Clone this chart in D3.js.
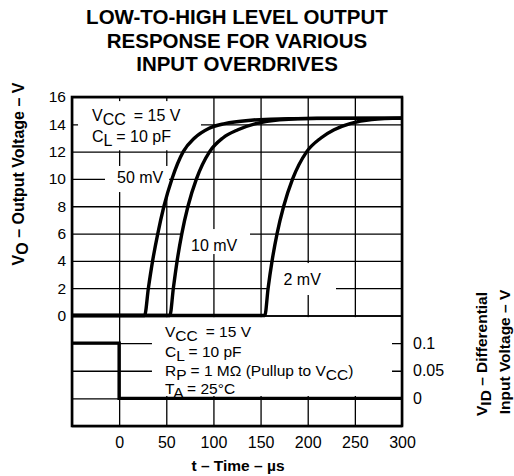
<!DOCTYPE html>
<html>
<head>
<meta charset="utf-8">
<script src="https://cdn.jsdelivr.net/npm/d3@7/dist/d3.min.js"></script>
<style>
  html, body { margin: 0; padding: 0; background: #fff; }
  svg { display: block; font-family: "Liberation Sans", Arial, Helvetica, sans-serif; }
</style>
</head>
<body>
<svg id="chart" width="514" height="476"></svg>
<script>
// ---------------- data ----------------
const titleLines = ["LOW-TO-HIGH LEVEL OUTPUT", "RESPONSE FOR VARIOUS", "INPUT OVERDRIVES"];
const timeTicks = [0, 50, 100, 150, 200, 250, 300];
const timeGrid = [-50, 0, 50, 100, 150, 200, 250, 300];
const voTicks = [0, 2, 4, 6, 8, 10, 12, 14, 16];
const vidTicks = [0, 0.05, 0.1];
const vidTickLabels = ["0", "0.05", "0.1"];
const vidGrid = [-0.05, 0, 0.05, 0.1, 0.15];

// output response, 50 mV overdrive
const t50 = [-50, 27, 31, 35.5, 41, 47.5, 56, 68, 80, 95, 112, 140, 180, 300];
const v50 = [0, 0, 2, 4, 6, 8, 10, 12, 13, 13.7, 14.05, 14.3, 14.42, 14.45];
// 10 mV overdrive
const t10 = [-50, 53.8, 57.5, 61.5, 66.5, 73, 82, 96, 110, 126, 145, 170, 210, 300];
const v10 = [0, 0, 2, 4, 6, 8, 10, 12, 13, 13.6, 14.05, 14.33, 14.44, 14.45];
// 2 mV overdrive
const t2 = [-50, 154.5, 158, 162.2, 167.5, 174.5, 184, 199, 214, 228, 245, 268, 300];
const v2 = [0, 0, 2, 4, 6, 8, 10, 12, 13, 13.6, 14.05, 14.35, 14.45];
// differential input step
const tIn = [-50, 0, 0, 300];
const vIn = [0.1, 0.1, 0, 0];

const curveLabels = ["50 mV", "10 mV", "2 mV"];

// ---------------- layout ----------------
const svg = d3.select("#chart");
const L = 72, R = 402, T = 97, MID = 315.5, B = 426;

const x = d3.scaleLinear().domain([-50, 300]).range([L, R]);
const yU = d3.scaleLinear().domain([0, 16]).range([MID, T]);
const yL = d3.scaleLinear().domain([-0.05, 0.15]).range([B, MID]);

// ---------------- grid ----------------
function styleGrid(g) {
  g.select(".domain").remove();
  g.selectAll(".tick line").attr("stroke", "#000").attr("stroke-width", 1.3);
  g.selectAll(".tick text").remove();
}
svg.append("g").attr("transform", `translate(0,${B})`)
  .call(d3.axisBottom(x).tickValues(timeGrid).tickSize(-(B - T)).tickFormat(""))
  .call(styleGrid);
svg.append("g").attr("transform", `translate(${L},0)`)
  .call(d3.axisLeft(yU).tickValues(voTicks).tickSize(-(R - L)).tickFormat(""))
  .call(styleGrid);
svg.append("g").attr("transform", `translate(${L},0)`)
  .call(d3.axisLeft(yL).tickValues(vidGrid).tickSize(-(R - L)).tickFormat(""))
  .call(styleGrid);

// ---------------- white label boxes (hide grid behind annotations) ----------------
const boxesU = [
  { t0: -43.6, t1: 86.8, v0: 15.7, v1: 12.1 },
  { t0: -15, t1: 53, v0: 10.95, v1: 9.04 },
  { t0: 67.7, t1: 138.8, v0: 6.33, v1: 4.5 },
  { t0: 157.9, t1: 230, v0: 3.84, v1: 1.5 }
];
svg.append("g").selectAll("rect").data(boxesU).join("rect")
  .attr("x", d => x(d.t0)).attr("width", d => x(d.t1) - x(d.t0))
  .attr("y", d => yU(d.v0)).attr("height", d => yU(d.v1) - yU(d.v0))
  .attr("fill", "#fff");
const boxL = { t0: 34.8, t1: 289.4, v0: 0.147, v1: 0.0043 };
svg.append("rect")
  .attr("x", x(boxL.t0)).attr("width", x(boxL.t1) - x(boxL.t0))
  .attr("y", yL(boxL.v0)).attr("height", yL(boxL.v1) - yL(boxL.v0))
  .attr("fill", "#fff");

// ---------------- frame ----------------
svg.append("rect").attr("x", L).attr("y", T).attr("width", R - L).attr("height", B - T)
  .attr("fill", "none").attr("stroke", "#000").attr("stroke-width", 2.6);

// ---------------- curves ----------------
const lineU = d3.line().x(d => x(d[0])).y(d => yU(d[1])).curve(d3.curveMonotoneX);
[[t50, v50], [t10, v10], [t2, v2]].forEach(([ts, vs]) => {
  svg.append("path").datum(ts.map((t, i) => [t, vs[i]]))
    .attr("d", lineU).attr("fill", "none").attr("stroke", "#000")
    .attr("stroke-width", 3.4).attr("stroke-linejoin", "round");
});
const lineL = d3.line().x(d => x(d[0])).y(d => yL(d[1]));
svg.append("path").datum(tIn.map((t, i) => [t, vIn[i]]))
  .attr("d", lineL).attr("fill", "none").attr("stroke", "#000").attr("stroke-width", 3.4);

// ---------------- axes labels ----------------
function styleAxis(g, size) {
  g.select(".domain").remove();
  g.selectAll(".tick line").remove();
  g.selectAll(".tick text").attr("font-size", size).attr("fill", "#000")
    .attr("font-family", "Liberation Sans, Arial, sans-serif");
}
svg.append("g").attr("transform", `translate(${L},0)`)
  .call(d3.axisLeft(yU).tickValues(voTicks).tickSize(0).tickPadding(6).tickFormat(d3.format("d")))
  .call(g => styleAxis(g, 15.5));
svg.append("g").attr("transform", `translate(0,${B})`)
  .call(d3.axisBottom(x).tickValues(timeTicks).tickSize(0).tickPadding(11).tickFormat(d3.format("d")))
  .call(g => styleAxis(g, 16));
svg.append("g").attr("transform", `translate(${R},0)`)
  .call(d3.axisRight(yL).tickValues(vidTicks).tickSize(0).tickPadding(11)
    .tickFormat((d, i) => vidTickLabels[i]))
  .call(g => styleAxis(g, 16));

// ---------------- text helpers ----------------
function richText(parent, xx, yy, parts, opts = {}) {
  const t = parent.append("text").attr("x", xx).attr("y", yy)
    .attr("font-size", opts.size || 16).attr("fill", "#000");
  if (opts.bold) t.attr("font-weight", "bold");
  if (opts.anchor) t.attr("text-anchor", opts.anchor);
  if (opts.transform) t.attr("transform", opts.transform);
  let sub = false;
  parts.forEach(p => {
    const isSub = !!p.sub;
    const ts = t.append("tspan").text(p.s);
    if (isSub && !sub) ts.attr("dy", 4);
    if (!isSub && sub) ts.attr("dy", -4);
    if (p.dx) ts.attr("dx", p.dx);
    sub = isSub;
  });
  return t;
}

// title
svg.append("g").selectAll("text").data(titleLines).join("text")
  .attr("x", (L + R) / 2).attr("y", (d, i) => 24 + i * 23.5)
  .attr("text-anchor", "middle").attr("font-weight", "bold").attr("font-size", 20.5)
  .attr("fill", "#000").text(d => d);

// upper legend
richText(svg, 92, 121, [{ s: "V" }, { s: "CC", sub: true }, { s: "= 15 V", dx: 8 }], { size: 16 });
richText(svg, 92, 142, [{ s: "C" }, { s: "L", sub: true }, { s: " = 10 pF" }], { size: 16 });

// curve labels
richText(svg, 117, 183, [{ s: curveLabels[0] }], { size: 16 });
richText(svg, 191, 251, [{ s: curveLabels[1] }], { size: 16 });
richText(svg, 283.5, 285, [{ s: curveLabels[2] }], { size: 16 });

// lower legend
richText(svg, 165, 337, [{ s: "V" }, { s: "CC", sub: true }, { s: "= 15 V", dx: 8 }], { size: 15.5 });
richText(svg, 165, 356.5, [{ s: "C" }, { s: "L", sub: true }, { s: " = 10 pF" }], { size: 15.5 });
richText(svg, 165, 375.5, [{ s: "R" }, { s: "P", sub: true }, { s: " = 1 M\u03A9 (Pullup to V" }, { s: "CC", sub: true }, { s: ")" }], { size: 15.5 });
richText(svg, 165, 394, [{ s: "T" }, { s: "A", sub: true }, { s: " = 25\u00B0C" }], { size: 15.5 });

// axis titles
richText(svg, 0, 0, [{ s: "V" }, { s: "O", sub: true }, { s: " \u2013 Output Voltage \u2013 V" }],
  { size: 16, bold: true, anchor: "middle", transform: "translate(23.5,174) rotate(-90)" });
richText(svg, 238, 471, [{ s: "t \u2013 Time \u2013 \u00B5s" }], { size: 15.5, bold: true, anchor: "middle" });
richText(svg, 0, 0, [{ s: "V" }, { s: "ID", sub: true }, { s: " \u2013 Differential" }],
  { size: 15.5, bold: true, anchor: "middle", transform: "translate(486.5,354) rotate(-90)" });
richText(svg, 0, 0, [{ s: "Input Voltage \u2013 V" }],
  { size: 15.5, bold: true, anchor: "middle", transform: "translate(510,352) rotate(-90)" });
</script>
</body>
</html>
